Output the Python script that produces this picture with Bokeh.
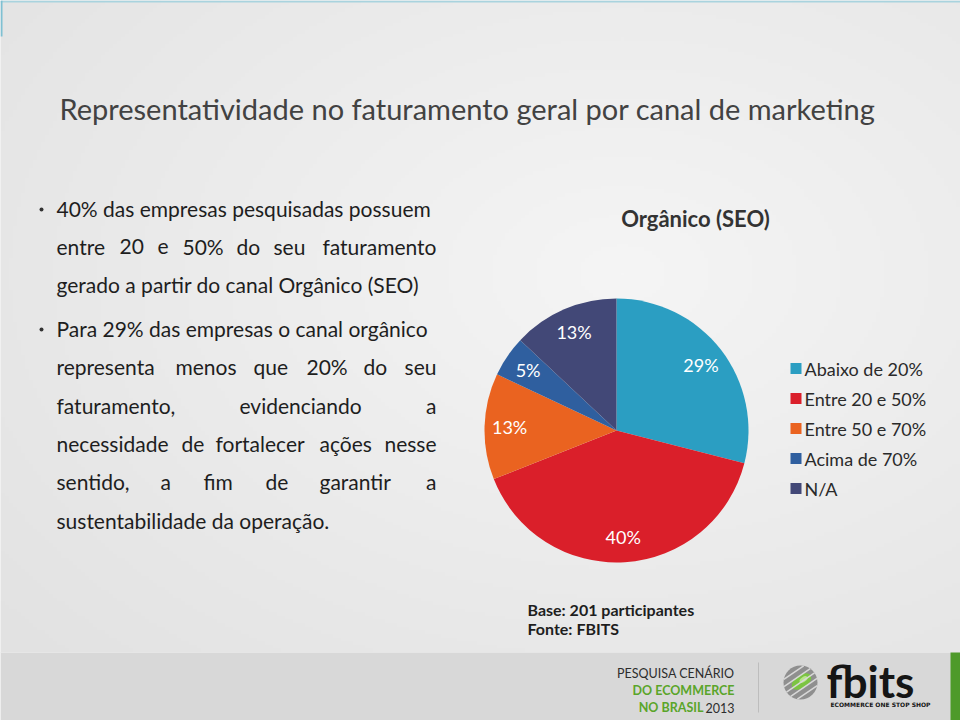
import numpy as np
from bokeh.plotting import figure
from bokeh.models import Range1d
from bokeh.core.properties import value
from bokeh.embed import file_html
from bokeh.resources import INLINE

# ---------------- data ----------------
page_title = "Representatividade no faturamento geral por canal de marketing"
chart_title = "Orgânico (SEO)"
categories = ["Abaixo de 20%", "Entre 20 e 50%", "Entre 50 e 70%", "Acima de  70%", "N/A"]
shares = [29, 40, 13, 5, 13]
colors = ["#2B9EC2", "#DA1F2A", "#EA6320", "#2F5F9F", "#424877"]
footnote = ["Base: 201 participantes", "Fonte: FBITS"]
footer_lines = [("PESQUISA CENÁRIO", ""), ("DO ECOMMERCE", ""), ("NO BRASIL", "2013")]

# body text: (line, justified word x positions or None)
body_lines = [
    ("40% das empresas pesquisadas possuem", None),
    ("entre 20 e 50% do seu faturamento", [56, 119, 157, 182, 236, 273]),
    ("gerado a partir do canal Orgânico (SEO)", None),
    ("Para 29% das empresas o canal orgânico", None),
    ("representa menos que 20% do seu", [56, 175, 253, 306, 363]),
    ("faturamento, evidenciando a", [56, 239]),
    ("necessidade de fortalecer ações nesse", [56, 181, 215, 319]),
    ("sentido, a fim de garantir a", [56, 160, 203, 265, 319]),
    ("sustentabilidade da operação.", None),
]
body_mid = [208, 246, 284, 328, 366, 405, 443, 481, 520]
bullet_lines = [0, 3]

W, H = 960, 720
FONT = value("Lato")
BODY_SIZE = "21px"

def Y(y):
    return H - y

p = figure(width=W, height=H, output_backend="svg", toolbar_location=None,
           x_range=Range1d(0, W), y_range=Range1d(0, H), min_border=0)
p.axis.visible = False
p.grid.visible = False
p.outline_line_color = None
p.background_fill_color = "#EDEDED"
p.border_fill_color = "#EDEDED"

# background radial gradient
gh, gw = 180, 240
yy, xx = np.mgrid[0:gh, 0:gw]
px = xx * 4.0
py = (gh - 1 - yy) * 4.0
d = np.sqrt(((px - 620) / 700) ** 2 + ((py - 300) / 520) ** 2)
v = np.clip(245 - 16 * d, 226, 245).astype(np.uint32)
img = (255 << 24) | (v << 16) | (v << 8) | v
p.image_rgba(image=[img.astype(np.uint32)], x=0, y=Y(652), dw=W, dh=652)

# top accent line
p.quad(left=0, right=W, bottom=Y(2), top=Y(0), fill_color="#A9D3DE", line_color=None)
p.quad(left=0, right=2, bottom=Y(36), top=Y(0), fill_color="#7FC0D2", line_color=None)

# page title
p.text(x=[59], y=[Y(108)], text=[page_title], text_font=FONT, text_font_size="29px",
       text_color="#424242", text_baseline="middle", text_align="left")

# body text
for (line, pos), mid_y in zip(body_lines, body_mid):
    if pos is None:
        p.text(x=[56], y=[Y(mid_y)], text=[line], text_font=FONT, text_font_size=BODY_SIZE,
               text_color="#1E1E1E", text_baseline="middle", text_align="left")
    else:
        words = line.split(" ")
        p.text(x=pos, y=[Y(mid_y)] * len(pos), text=words[:-1], text_font=FONT,
               text_font_size=BODY_SIZE, text_color="#1E1E1E", text_baseline="middle",
               text_align="left")
        p.text(x=[436], y=[Y(mid_y)], text=[words[-1]], text_font=FONT, text_font_size=BODY_SIZE,
               text_color="#1E1E1E", text_baseline="middle", text_align="right")
bx = [41 for _ in bullet_lines]
by = [Y(body_mid[i] + 1) for i in bullet_lines]
p.scatter(x=bx, y=by, size=4, marker="circle", fill_color="#333333", line_color=None)

# chart title
p.text(x=[695], y=[Y(218)], text=[chart_title], text_font=FONT, text_font_size="22px",
       text_font_style="bold", text_color="#333333", text_baseline="middle", text_align="center")

# pie
cx, cy, R = 616, Y(430), 132
fr = np.array(shares, dtype=float) / sum(shares)
ends_cum = np.cumsum(fr)
starts_cum = ends_cum - fr
a_start = np.pi / 2 - ends_cum * 2 * np.pi   # clockwise from top
a_end = np.pi / 2 - starts_cum * 2 * np.pi
p.wedge(x=cx, y=cy, radius=R, start_angle=a_start, end_angle=a_end,
        fill_color=colors, line_color=None)
mid = (a_start + a_end) / 2
lr = 0.81 * R
p.text(x=cx + lr * np.cos(mid), y=cy + lr * np.sin(mid), text=[f"{s}%" for s in shares],
       text_font=FONT, text_font_size="18px", text_color="#FFFFFF",
       text_baseline="middle", text_align="center")

# legend
ly = [Y(368 + 30 * i) for i in range(len(categories))]
p.rect(x=[795.5] * len(categories), y=ly, width=11, height=11, fill_color=colors, line_color=None)
p.text(x=[804] * len(categories), y=ly, text=categories, text_font=FONT, text_font_size="18px",
       text_color="#2A2A2A", text_baseline="middle", text_align="left")

# footnote
p.text(x=[527, 527], y=[Y(609), Y(628)], text=footnote, text_font=FONT, text_font_size="16px",
       text_font_style="bold", text_color="#1E1E1E", text_baseline="middle", text_align="left")

# footer band
p.quad(left=0, right=W, bottom=0, top=Y(652), fill_color="#D8D8D8", line_color=None)
p.segment(x0=0, y0=Y(652), x1=W, y1=Y(652), line_color="#E6E6E6", line_width=1)
p.quad(left=950, right=W, bottom=0, top=Y(652), fill_color="#4E9A2A", line_color=None)
p.segment(x0=758, y0=Y(662), x1=758, y1=Y(712), line_color="#BDBDBD", line_width=1)

fy = [673, 690, 707]
p.text(x=[734], y=[Y(fy[0])], text=[footer_lines[0][0]], text_font=FONT, text_font_size="12.5px",
       text_color="#2D2D2D", text_baseline="middle", text_align="right")
p.text(x=[734], y=[Y(fy[1])], text=[footer_lines[1][0]], text_font=FONT, text_font_size="12.5px",
       text_font_style="bold", text_color="#5AA52A", text_baseline="middle", text_align="right")
p.text(x=[703], y=[Y(fy[2])], text=[footer_lines[2][0]], text_font=FONT, text_font_size="12.5px",
       text_font_style="bold", text_color="#5AA52A", text_baseline="middle", text_align="right")
p.text(x=[705], y=[Y(fy[2])], text=[footer_lines[2][1]], text_font=FONT, text_font_size="12.5px",
       text_color="#2D2D2D", text_baseline="middle", text_align="left")

# fbits logo: striped sphere
lx, lyc, lr0 = 800, Y(682), 17
p.circle(x=[lx], y=[lyc], radius=lr0, fill_color="#8F8F8F", line_color=None)
p.ellipse(x=[lx + 1], y=[lyc + 1], width=22, height=13, angle=0.6,
          fill_color="#7CC443", line_color=None)
p.ellipse(x=[lx + 3], y=[lyc + 3], width=9, height=5, angle=0.6,
          fill_color="#B8E68A", line_color=None)
offs = np.array([-12, -6, 0, 6, 12])
ang = 0.6
ux, uy = np.cos(ang), np.sin(ang)
nx, ny = -uy, ux
half = np.sqrt(np.clip(lr0 ** 2 - offs ** 2, 0, None))
p.segment(x0=lx + offs * nx - half * ux, y0=lyc + offs * ny - half * uy,
          x1=lx + offs * nx + half * ux, y1=lyc + offs * ny + half * uy,
          line_color="#D8D8D8", line_width=1.5)
p.text(x=[826], y=[Y(680)], text=["fbits"], text_font=FONT, text_font_size="44px",
       text_font_style="bold", text_color="#151515", text_baseline="middle", text_align="left")
p.text(x=[880], y=[Y(704)], text=["ECOMMERCE ONE STOP SHOP"], text_font=value("DejaVu Sans"),
       text_font_size="6px", text_font_style="bold", text_color="#151515",
       text_baseline="middle", text_align="center")

open("out.html", "w").write(file_html(p, INLINE))
